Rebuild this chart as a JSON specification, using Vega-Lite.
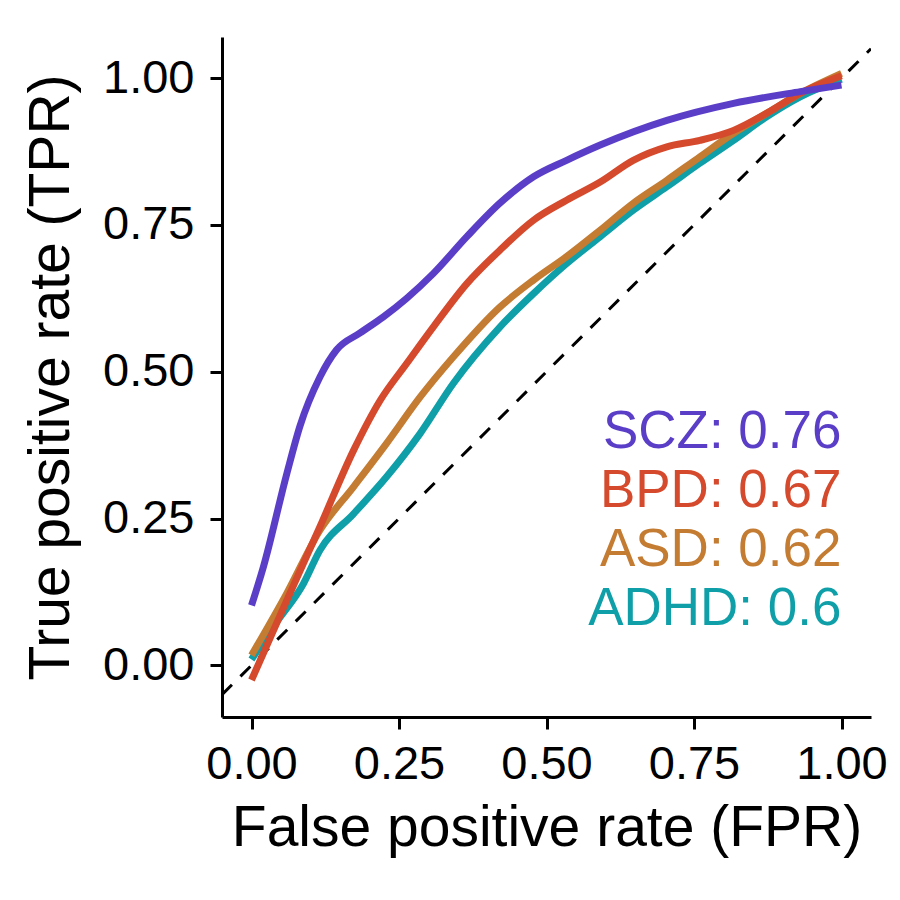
{
  "$schema": "https://vega.github.io/schema/vega-lite/v6.json",
  "autosize": {"type": "none"},
  "padding": {"left": 222, "top": 37, "right": 29, "bottom": 183},
  "width": 649,
  "height": 680,
  "background": "white",
  "config": {
    "view": {"stroke": null},
    "font": "Liberation Sans",
    "axis": {
      "grid": false,
      "domainColor": "black",
      "domainWidth": 3,
      "tickColor": "black",
      "tickWidth": 3,
      "tickSize": 12,
      "labelFont": "Liberation Sans",
      "labelFontSize": 47,
      "labelColor": "black",
      "titleFont": "Liberation Sans",
      "titleFontSize": 57,
      "titleFontWeight": "normal",
      "titleColor": "black"
    }
  },
  "datasets": {
    "curves": [
      {"group": "ADHD", "fpr": 0.0, "tpr": 0.01},
      {"group": "ADHD", "fpr": 0.04, "tpr": 0.07},
      {"group": "ADHD", "fpr": 0.088, "tpr": 0.139},
      {"group": "ADHD", "fpr": 0.116, "tpr": 0.196},
      {"group": "ADHD", "fpr": 0.173, "tpr": 0.258},
      {"group": "ADHD", "fpr": 0.229, "tpr": 0.321},
      {"group": "ADHD", "fpr": 0.286, "tpr": 0.395},
      {"group": "ADHD", "fpr": 0.342, "tpr": 0.48},
      {"group": "ADHD", "fpr": 0.421, "tpr": 0.576},
      {"group": "ADHD", "fpr": 0.478, "tpr": 0.633},
      {"group": "ADHD", "fpr": 0.534, "tpr": 0.684},
      {"group": "ADHD", "fpr": 0.591, "tpr": 0.73},
      {"group": "ADHD", "fpr": 0.647, "tpr": 0.775},
      {"group": "ADHD", "fpr": 0.704, "tpr": 0.815},
      {"group": "ADHD", "fpr": 0.76, "tpr": 0.855},
      {"group": "ADHD", "fpr": 0.817, "tpr": 0.894},
      {"group": "ADHD", "fpr": 0.873, "tpr": 0.934},
      {"group": "ADHD", "fpr": 0.93, "tpr": 0.968},
      {"group": "ADHD", "fpr": 1.0, "tpr": 0.998},
      {"group": "ASD", "fpr": 0.0, "tpr": 0.017},
      {"group": "ASD", "fpr": 0.06, "tpr": 0.123},
      {"group": "ASD", "fpr": 0.116, "tpr": 0.23},
      {"group": "ASD", "fpr": 0.173, "tpr": 0.304},
      {"group": "ASD", "fpr": 0.229, "tpr": 0.378},
      {"group": "ASD", "fpr": 0.286, "tpr": 0.457},
      {"group": "ASD", "fpr": 0.342, "tpr": 0.525},
      {"group": "ASD", "fpr": 0.421, "tpr": 0.61},
      {"group": "ASD", "fpr": 0.478, "tpr": 0.656},
      {"group": "ASD", "fpr": 0.534, "tpr": 0.696},
      {"group": "ASD", "fpr": 0.591, "tpr": 0.741},
      {"group": "ASD", "fpr": 0.647, "tpr": 0.787},
      {"group": "ASD", "fpr": 0.704, "tpr": 0.826},
      {"group": "ASD", "fpr": 0.76, "tpr": 0.866},
      {"group": "ASD", "fpr": 0.817, "tpr": 0.906},
      {"group": "ASD", "fpr": 0.873, "tpr": 0.94},
      {"group": "ASD", "fpr": 0.93, "tpr": 0.974},
      {"group": "ASD", "fpr": 1.0, "tpr": 1.008},
      {"group": "BPD", "fpr": 0.0, "tpr": -0.025},
      {"group": "BPD", "fpr": 0.06, "tpr": 0.111},
      {"group": "BPD", "fpr": 0.116, "tpr": 0.236},
      {"group": "BPD", "fpr": 0.173, "tpr": 0.366},
      {"group": "BPD", "fpr": 0.218, "tpr": 0.451},
      {"group": "BPD", "fpr": 0.263, "tpr": 0.514},
      {"group": "BPD", "fpr": 0.308, "tpr": 0.576},
      {"group": "BPD", "fpr": 0.365, "tpr": 0.65},
      {"group": "BPD", "fpr": 0.421, "tpr": 0.707},
      {"group": "BPD", "fpr": 0.478, "tpr": 0.758},
      {"group": "BPD", "fpr": 0.534, "tpr": 0.792},
      {"group": "BPD", "fpr": 0.591, "tpr": 0.823},
      {"group": "BPD", "fpr": 0.647, "tpr": 0.86},
      {"group": "BPD", "fpr": 0.704, "tpr": 0.883},
      {"group": "BPD", "fpr": 0.76, "tpr": 0.894},
      {"group": "BPD", "fpr": 0.817, "tpr": 0.911},
      {"group": "BPD", "fpr": 0.873, "tpr": 0.94},
      {"group": "BPD", "fpr": 0.93, "tpr": 0.974},
      {"group": "BPD", "fpr": 1.0, "tpr": 1.004},
      {"group": "SCZ", "fpr": 0.0, "tpr": 0.102},
      {"group": "SCZ", "fpr": 0.02, "tpr": 0.167},
      {"group": "SCZ", "fpr": 0.06, "tpr": 0.327},
      {"group": "SCZ", "fpr": 0.082, "tpr": 0.407},
      {"group": "SCZ", "fpr": 0.116, "tpr": 0.491},
      {"group": "SCZ", "fpr": 0.144, "tpr": 0.537},
      {"group": "SCZ", "fpr": 0.184, "tpr": 0.566},
      {"group": "SCZ", "fpr": 0.223, "tpr": 0.593},
      {"group": "SCZ", "fpr": 0.263, "tpr": 0.625},
      {"group": "SCZ", "fpr": 0.308, "tpr": 0.667},
      {"group": "SCZ", "fpr": 0.365, "tpr": 0.73},
      {"group": "SCZ", "fpr": 0.421, "tpr": 0.787},
      {"group": "SCZ", "fpr": 0.478, "tpr": 0.832},
      {"group": "SCZ", "fpr": 0.534, "tpr": 0.86},
      {"group": "SCZ", "fpr": 0.591, "tpr": 0.886},
      {"group": "SCZ", "fpr": 0.704, "tpr": 0.928},
      {"group": "SCZ", "fpr": 0.817, "tpr": 0.957},
      {"group": "SCZ", "fpr": 0.93, "tpr": 0.977},
      {"group": "SCZ", "fpr": 1.0, "tpr": 0.988}
    ],
    "labels": [
      {"group": "SCZ", "label": "SCZ: 0.76", "fpr": 1.0, "tpr": 0.4},
      {"group": "BPD", "label": "BPD: 0.67", "fpr": 1.0, "tpr": 0.3},
      {"group": "ASD", "label": "ASD: 0.62", "fpr": 1.0, "tpr": 0.2},
      {"group": "ADHD", "label": "ADHD: 0.6", "fpr": 1.0, "tpr": 0.1}
    ],
    "diag": [
      {"fpr": -0.05, "tpr": -0.05},
      {"fpr": 1.05, "tpr": 1.05}
    ]
  },
  "layer": [
    {
      "data": {"name": "diag"},
      "mark": {"type": "line", "color": "black", "strokeWidth": 3, "strokeDash": [14, 12], "clip": true},
      "encoding": {
        "x": {"field": "fpr", "type": "quantitative", "scale": {"domain": [-0.05, 1.05], "nice": false, "zero": false},
              "axis": {"values": [0, 0.25, 0.5, 0.75, 1], "format": ".2f", "title": "False positive rate (FPR)", "labelPadding": 12, "titlePadding": 13}},
        "y": {"field": "tpr", "type": "quantitative", "scale": {"domain": [-0.088, 1.07], "nice": false, "zero": false},
              "axis": {"values": [0, 0.25, 0.5, 0.75, 1], "format": ".2f", "title": "True positive rate (TPR)", "labelPadding": 16, "titlePadding": 22}}
      }
    },
    {
      "data": {"name": "curves"},
      "mark": {"type": "line", "strokeWidth": 7, "interpolate": "monotone", "strokeCap": "butt", "clip": true},
      "encoding": {
        "x": {"field": "fpr", "type": "quantitative"},
        "y": {"field": "tpr", "type": "quantitative"},
        "color": {"field": "group", "type": "nominal", "legend": null,
                  "scale": {"domain": ["SCZ", "BPD", "ASD", "ADHD"], "range": ["#5b3ec8", "#d5492c", "#c47b32", "#0f9fa8"]}},
        "order": {"field": "fpr", "type": "quantitative"}
      }
    },
    {
      "data": {"name": "labels"},
      "mark": {"type": "text", "align": "right", "baseline": "middle", "fontSize": 53, "font": "Liberation Sans", "dy": 2},
      "encoding": {
        "x": {"field": "fpr", "type": "quantitative"},
        "y": {"field": "tpr", "type": "quantitative"},
        "text": {"field": "label"},
        "color": {"field": "group", "type": "nominal", "legend": null}
      }
    }
  ]
}
